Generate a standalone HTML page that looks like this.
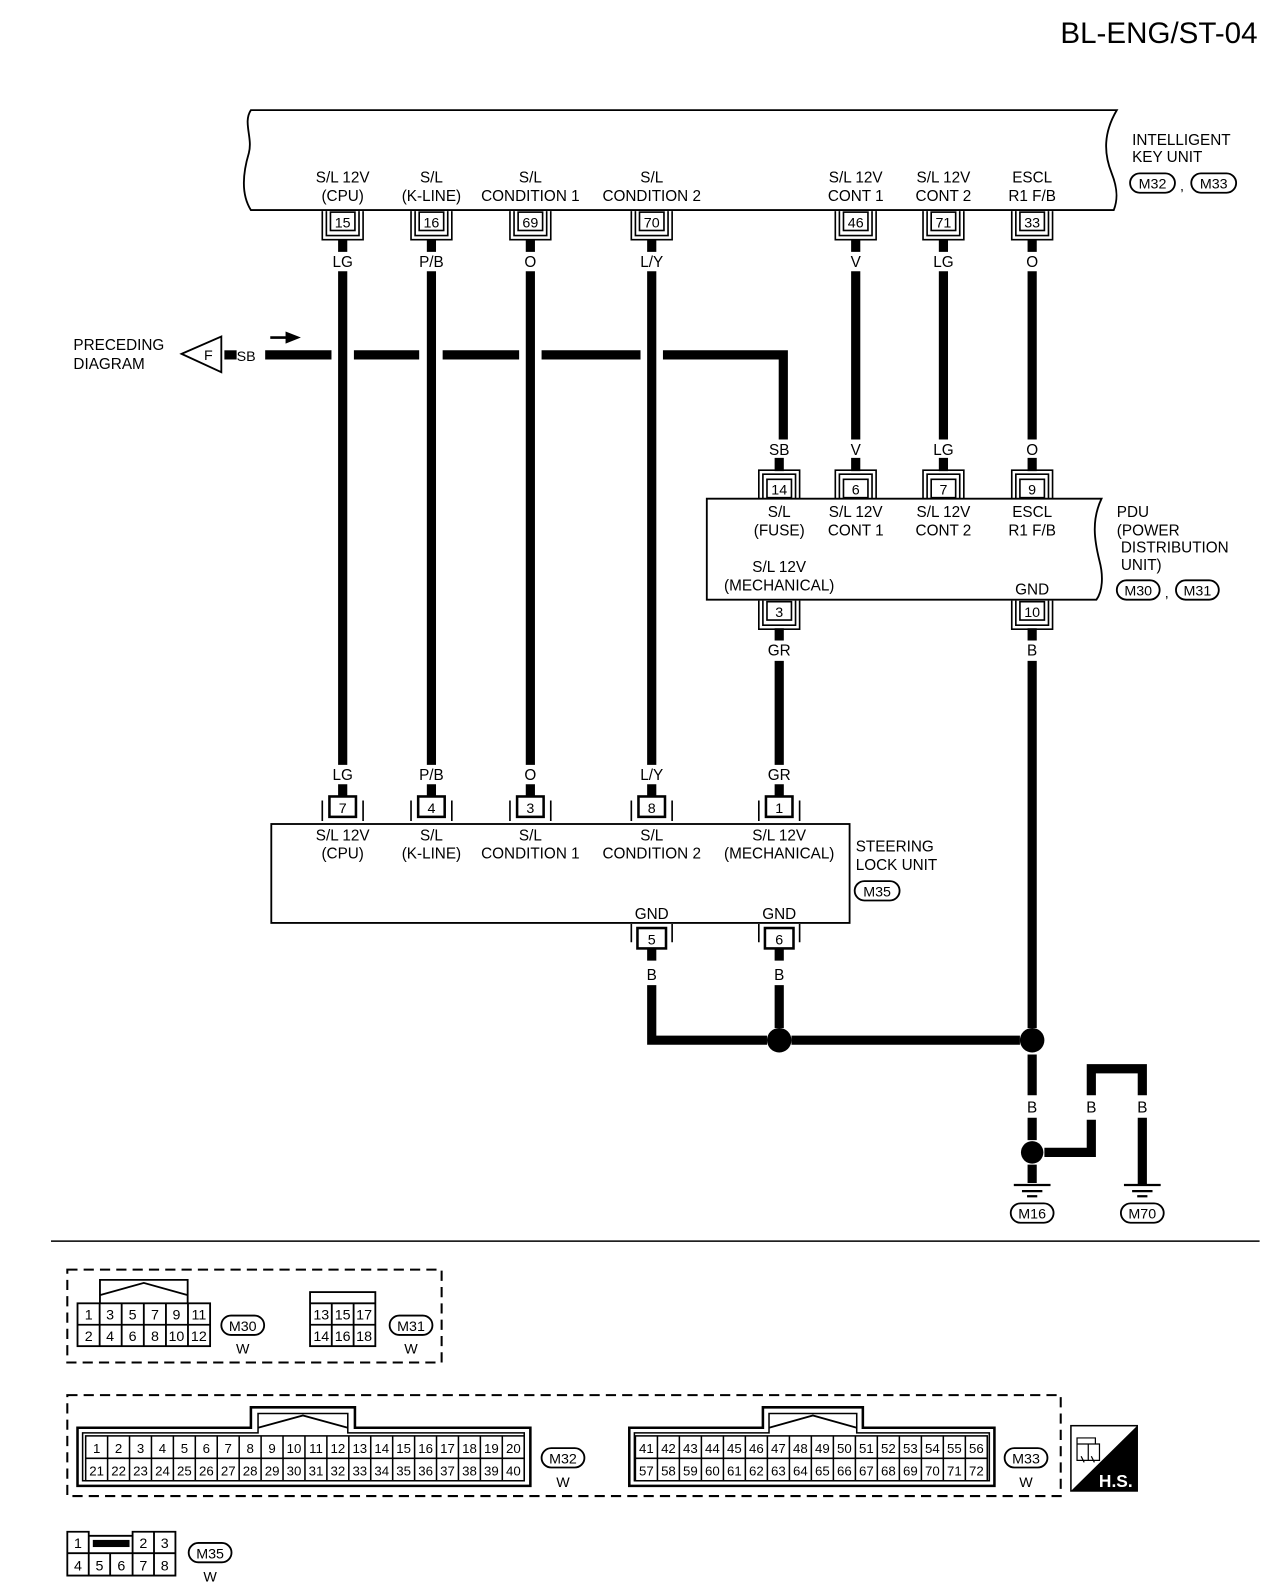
<!DOCTYPE html>
<html><head><meta charset="utf-8"><style>
html,body{margin:0;padding:0;background:#fff}
svg{display:block}
text{font-family:"Liberation Sans",sans-serif;fill:#000}
</style></head><body>
<svg width="1280" height="1596" viewBox="0 0 1255 1565" preserveAspectRatio="none" xmlns="http://www.w3.org/2000/svg">
<defs>
<g id="pd"><path d="M-20 0V28H20V0M-16 0V24H16V0" fill="none" stroke="#000" stroke-width="1.6"/><rect x="-12" y="1" width="24" height="18" fill="#fff" stroke="#000" stroke-width="1.6"/></g>
<g id="pu"><path d="M-20 28V0H20V28M-16 28V4H16V28" fill="none" stroke="#000" stroke-width="1.6"/><rect x="-12" y="9" width="24" height="18" fill="#fff" stroke="#000" stroke-width="1.6"/></g>
<g id="ps"><path d="M-20 26V6M20 26V6" fill="none" stroke="#000" stroke-width="1.6"/><rect x="-13" y="2" width="26" height="20" fill="#fff" stroke="#000" stroke-width="2.5"/></g>
<g id="pb"><path d="M-20 0V18M20 0V18" fill="none" stroke="#000" stroke-width="1.6"/><rect x="-14" y="4" width="28" height="20" fill="#fff" stroke="#000" stroke-width="2.5"/></g>
<g id="gnd"><path d="M-18 0H18M-10 6H10M-5 11H5" stroke="#000" stroke-width="2.2"/></g>
</defs>

<text x="1233" y="42" font-size="29" text-anchor="end">BL-ENG/ST-04</text>

<path d="M246 108H1095 C1082 130,1082 150,1090 170 C1096 185,1096 196,1092 206 H246 C236 190,238 170,244 150 C248 135,238 120,246 108Z" fill="none" stroke="#000" stroke-width="1.8"/>
<g font-size="15" text-anchor="middle">
<text x="336" y="179">S/L 12V</text><text x="336" y="197">(CPU)</text>
<text x="423" y="179">S/L</text><text x="423" y="197">(K-LINE)</text>
<text x="520" y="179">S/L</text><text x="520" y="197">CONDITION 1</text>
<text x="639" y="179">S/L</text><text x="639" y="197">CONDITION 2</text>
<text x="839" y="179">S/L 12V</text><text x="839" y="197">CONT 1</text>
<text x="925" y="179">S/L 12V</text><text x="925" y="197">CONT 2</text>
<text x="1012" y="179">ESCL</text><text x="1012" y="197">R1 F/B</text>
</g>
<g font-size="15"><text x="1110" y="142">INTELLIGENT</text><text x="1110" y="159">KEY UNIT</text></g>
<rect x="1108" y="170" width="44" height="19" rx="9.5" fill="none" stroke="#000" stroke-width="1.8"/>
<text x="1130" y="185" font-size="14" text-anchor="middle">M32</text>
<text x="1157" y="187" font-size="14">,</text>
<rect x="1168" y="170" width="44" height="19" rx="9.5" fill="none" stroke="#000" stroke-width="1.8"/>
<text x="1190" y="185" font-size="14" text-anchor="middle">M33</text>

<g>
<use href="#pd" x="336" y="207"/><use href="#pd" x="423" y="207"/><use href="#pd" x="520" y="207"/><use href="#pd" x="639" y="207"/>
<use href="#pd" x="839" y="207"/><use href="#pd" x="925" y="207"/><use href="#pd" x="1012" y="207"/>
</g>
<g font-size="14" text-anchor="middle">
<text x="336" y="223">15</text><text x="423" y="223">16</text><text x="520" y="223">69</text><text x="639" y="223">70</text>
<text x="839" y="223">46</text><text x="925" y="223">71</text><text x="1012" y="223">33</text>
</g>
<g font-size="15" text-anchor="middle">
<text x="336" y="262">LG</text><text x="423" y="262">P/B</text><text x="520" y="262">O</text><text x="639" y="262">L/Y</text>
<text x="839" y="262">V</text><text x="925" y="262">LG</text><text x="1012" y="262">O</text>
</g>
<g stroke="#000" stroke-width="9" fill="none">
<path d="M336 235V247M423 235V247M520 235V247M639 235V247M839 235V247M925 235V247M1012 235V247"/>
<path d="M336 266V750M423 266V750M520 266V750M639 266V750"/>
<path d="M839 266V431M925 266V431M1012 266V431"/>
<path d="M764 449V462M839 449V462M925 449V462M1012 449V462"/>
<path d="M260 348H325M347 348H411M434 348H509M531 348H628M650 348H768V431"/>
<path d="M764 616V628M1012 616V628M764 648V750M1012 648V1008"/>
<path d="M336 769V781M423 769V781M520 769V781M639 769V781M764 769V781"/>
<path d="M639 930V942M764 930V942M639 966V1020H752M776 1020H1000M764 966V1008"/>
<path d="M1012 1034V1074M1012 1096V1118M1012 1142V1160M1024 1130H1070V1098M1070 1074V1048H1120V1074M1120 1096V1162"/>
<path d="M220 348H232"/>
</g>
<circle cx="764" cy="1020" r="12"/><circle cx="1012" cy="1020" r="12"/><circle cx="1012" cy="1130" r="11"/>
<g font-size="15"><text x="72" y="343">PRECEDING</text><text x="72" y="362">DIAGRAM</text></g>
<path d="M178 347L217 330V365Z" fill="#fff" stroke="#000" stroke-width="1.8"/>
<text x="200" y="353" font-size="14">F</text>
<text x="232" y="354" font-size="14">SB</text>
<path d="M265 331H282" stroke="#000" stroke-width="2.5"/><path d="M280 325L295 331L280 337Z"/>
<g font-size="15" text-anchor="middle">
<text x="764" y="446">SB</text><text x="839" y="446">V</text><text x="925" y="446">LG</text><text x="1012" y="446">O</text>
</g>
<use href="#pu" x="764" y="461"/><use href="#pu" x="839" y="461"/><use href="#pu" x="925" y="461"/><use href="#pu" x="1012" y="461"/>
<g font-size="14" text-anchor="middle">
<text x="764" y="485">14</text><text x="839" y="485">6</text><text x="925" y="485">7</text><text x="1012" y="485">9</text>
</g>
<path d="M693 489H1080 C1070 510,1073 530,1078 550 C1082 565,1081 580,1075 588 H693Z" fill="#fff" stroke="#000" stroke-width="1.8"/>
<g font-size="15" text-anchor="middle">
<text x="764" y="507">S/L</text><text x="764" y="525">(FUSE)</text>
<text x="839" y="507">S/L 12V</text><text x="839" y="525">CONT 1</text>
<text x="925" y="507">S/L 12V</text><text x="925" y="525">CONT 2</text>
<text x="1012" y="507">ESCL</text><text x="1012" y="525">R1 F/B</text>
<text x="764" y="561">S/L 12V</text><text x="764" y="579">(MECHANICAL)</text>
<text x="1012" y="583">GND</text>
</g>
<g font-size="15"><text x="1095" y="507">PDU</text><text x="1095" y="525">(POWER</text><text x="1099" y="542">DISTRIBUTION</text><text x="1099" y="559">UNIT)</text></g>
<rect x="1095" y="569" width="42" height="19" rx="9.5" fill="none" stroke="#000" stroke-width="1.8"/>
<text x="1116" y="584" font-size="14" text-anchor="middle">M30</text>
<text x="1142" y="586" font-size="14">,</text>
<rect x="1153" y="569" width="42" height="19" rx="9.5" fill="none" stroke="#000" stroke-width="1.8"/>
<text x="1174" y="584" font-size="14" text-anchor="middle">M31</text>
<use href="#pd" x="764" y="589"/><use href="#pd" x="1012" y="589"/>
<g font-size="14" text-anchor="middle"><text x="764" y="605">3</text><text x="1012" y="605">10</text></g>
<g font-size="15" text-anchor="middle"><text x="764" y="643">GR</text><text x="1012" y="643">B</text></g>
<g font-size="15" text-anchor="middle">
<text x="336" y="765">LG</text><text x="423" y="765">P/B</text><text x="520" y="765">O</text><text x="639" y="765">L/Y</text><text x="764" y="765">GR</text>
</g>
<use href="#ps" x="336" y="779"/><use href="#ps" x="423" y="779"/><use href="#ps" x="520" y="779"/><use href="#ps" x="639" y="779"/><use href="#ps" x="764" y="779"/>
<g font-size="14" text-anchor="middle">
<text x="336" y="797">7</text><text x="423" y="797">4</text><text x="520" y="797">3</text><text x="639" y="797">8</text><text x="764" y="797">1</text>
</g>
<rect x="266" y="808" width="567" height="97" fill="none" stroke="#000" stroke-width="1.8"/>
<g font-size="15" text-anchor="middle">
<text x="336" y="824">S/L 12V</text><text x="336" y="842">(CPU)</text>
<text x="423" y="824">S/L</text><text x="423" y="842">(K-LINE)</text>
<text x="520" y="824">S/L</text><text x="520" y="842">CONDITION 1</text>
<text x="639" y="824">S/L</text><text x="639" y="842">CONDITION 2</text>
<text x="764" y="824">S/L 12V</text><text x="764" y="842">(MECHANICAL)</text>
<text x="639" y="901">GND</text><text x="764" y="901">GND</text>
</g>
<g font-size="15"><text x="839" y="835">STEERING</text><text x="839" y="853">LOCK UNIT</text></g>
<rect x="838" y="864" width="44" height="19" rx="9.5" fill="none" stroke="#000" stroke-width="1.8"/>
<text x="860" y="879" font-size="14" text-anchor="middle">M35</text>
<use href="#pb" x="639" y="906"/><use href="#pb" x="764" y="906"/>
<g font-size="14" text-anchor="middle"><text x="639" y="926">5</text><text x="764" y="926">6</text></g>
<g font-size="15" text-anchor="middle"><text x="639" y="961">B</text><text x="764" y="961">B</text>
<text x="1012" y="1091">B</text><text x="1070" y="1091">B</text><text x="1120" y="1091">B</text></g>
<use href="#gnd" x="1012" y="1162"/><use href="#gnd" x="1120" y="1162"/>
<rect x="991" y="1180" width="42" height="19" rx="9.5" fill="none" stroke="#000" stroke-width="1.8"/>
<text x="1012" y="1195" font-size="14" text-anchor="middle">M16</text>
<rect x="1099" y="1180" width="42" height="19" rx="9.5" fill="none" stroke="#000" stroke-width="1.8"/>
<text x="1120" y="1195" font-size="14" text-anchor="middle">M70</text>
<path d="M50 1217H1235" stroke="#000" stroke-width="1.5"/>

<rect x="66" y="1245" width="367" height="91" fill="none" stroke="#000" stroke-width="2" stroke-dasharray="10,6"/>
<path d="M98 1278V1255H184V1278M98 1270L141 1258L184 1270" fill="none" stroke="#000" stroke-width="1.8"/>
<g fill="none" stroke="#000" stroke-width="1.8">
<rect x="76" y="1278" width="130" height="42"/><path d="M76 1299H206M97.7 1278V1320M119.3 1278V1320M141 1278V1320M162.7 1278V1320M184.3 1278V1320"/>
<rect x="304" y="1267" width="64" height="53"/><path d="M304 1278H368M304 1299H368M325.3 1278V1320M346.7 1278V1320"/>
</g>
<g font-size="14" text-anchor="middle">
<text x="87" y="1294">1</text><text x="108" y="1294">3</text><text x="130" y="1294">5</text><text x="152" y="1294">7</text><text x="173" y="1294">9</text><text x="195" y="1294">11</text>
<text x="87" y="1315">2</text><text x="108" y="1315">4</text><text x="130" y="1315">6</text><text x="152" y="1315">8</text><text x="173" y="1315">10</text><text x="195" y="1315">12</text>
<text x="315" y="1294">13</text><text x="336" y="1294">15</text><text x="357" y="1294">17</text>
<text x="315" y="1315">14</text><text x="336" y="1315">16</text><text x="357" y="1315">18</text>
</g>
<rect x="217" y="1290" width="42" height="19" rx="9.5" fill="none" stroke="#000" stroke-width="1.8"/>
<text x="238" y="1305" font-size="14" text-anchor="middle">M30</text><text x="238" y="1327" font-size="14" text-anchor="middle">W</text>
<rect x="382" y="1290" width="42" height="19" rx="9.5" fill="none" stroke="#000" stroke-width="1.8"/>
<text x="403" y="1305" font-size="14" text-anchor="middle">M31</text><text x="403" y="1327" font-size="14" text-anchor="middle">W</text>

<rect x="66" y="1368" width="974" height="99" fill="none" stroke="#000" stroke-width="2" stroke-dasharray="10,6"/>
<g fill="none" stroke="#000">
<path d="M76 1400H246V1380H348V1400H520V1457H76Z" stroke-width="2.5"/>
<path d="M81 1405H253V1386H341V1405H514V1452H81Z" stroke-width="1.5"/>
<path d="M253 1400L297 1388L341 1400" stroke-width="1.8"/>
<rect x="84" y="1408" width="430" height="44" stroke-width="1.5"/>
<path d="M84 1430H514M105.5 1408V1452M127 1408V1452M148.5 1408V1452M170 1408V1452M191.5 1408V1452M213 1408V1452M234.5 1408V1452M256 1408V1452M277.5 1408V1452M299 1408V1452M320.5 1408V1452M342 1408V1452M363.5 1408V1452M385 1408V1452M406.5 1408V1452M428 1408V1452M449.5 1408V1452M471 1408V1452M492.5 1408V1452" stroke-width="1.5"/>
<path d="M617 1400H748V1380H846V1400H975V1457H617Z" stroke-width="2.5"/>
<path d="M622 1405H754V1386H840V1405H970V1452H622Z" stroke-width="1.5"/>
<path d="M754 1400L797 1388L840 1400" stroke-width="1.8"/>
<rect x="623" y="1408" width="345" height="44" stroke-width="1.5"/>
<path d="M623 1430H968M644.6 1408V1452M666.1 1408V1452M687.7 1408V1452M709.3 1408V1452M730.8 1408V1452M752.4 1408V1452M774 1408V1452M795.5 1408V1452M817.1 1408V1452M838.7 1408V1452M860.2 1408V1452M881.8 1408V1452M903.4 1408V1452M924.9 1408V1452M946.5 1408V1452" stroke-width="1.5"/>
</g>
<g font-size="13" text-anchor="middle">
<text x="94.8" y="1425">1</text><text x="116.3" y="1425">2</text><text x="137.8" y="1425">3</text><text x="159.3" y="1425">4</text><text x="180.8" y="1425">5</text><text x="202.3" y="1425">6</text><text x="223.8" y="1425">7</text><text x="245.3" y="1425">8</text><text x="266.8" y="1425">9</text><text x="288.3" y="1425">10</text><text x="309.8" y="1425">11</text><text x="331.3" y="1425">12</text><text x="352.8" y="1425">13</text><text x="374.3" y="1425">14</text><text x="395.8" y="1425">15</text><text x="417.3" y="1425">16</text><text x="438.8" y="1425">17</text><text x="460.3" y="1425">18</text><text x="481.8" y="1425">19</text><text x="503.3" y="1425">20</text>
<text x="94.8" y="1447">21</text><text x="116.3" y="1447">22</text><text x="137.8" y="1447">23</text><text x="159.3" y="1447">24</text><text x="180.8" y="1447">25</text><text x="202.3" y="1447">26</text><text x="223.8" y="1447">27</text><text x="245.3" y="1447">28</text><text x="266.8" y="1447">29</text><text x="288.3" y="1447">30</text><text x="309.8" y="1447">31</text><text x="331.3" y="1447">32</text><text x="352.8" y="1447">33</text><text x="374.3" y="1447">34</text><text x="395.8" y="1447">35</text><text x="417.3" y="1447">36</text><text x="438.8" y="1447">37</text><text x="460.3" y="1447">38</text><text x="481.8" y="1447">39</text><text x="503.3" y="1447">40</text>
<text x="633.8" y="1425">41</text><text x="655.4" y="1425">42</text><text x="676.9" y="1425">43</text><text x="698.5" y="1425">44</text><text x="720.1" y="1425">45</text><text x="741.6" y="1425">46</text><text x="763.2" y="1425">47</text><text x="784.8" y="1425">48</text><text x="806.3" y="1425">49</text><text x="827.9" y="1425">50</text><text x="849.5" y="1425">51</text><text x="871" y="1425">52</text><text x="892.6" y="1425">53</text><text x="914.2" y="1425">54</text><text x="935.7" y="1425">55</text><text x="957.3" y="1425">56</text>
<text x="633.8" y="1447">57</text><text x="655.4" y="1447">58</text><text x="676.9" y="1447">59</text><text x="698.5" y="1447">60</text><text x="720.1" y="1447">61</text><text x="741.6" y="1447">62</text><text x="763.2" y="1447">63</text><text x="784.8" y="1447">64</text><text x="806.3" y="1447">65</text><text x="827.9" y="1447">66</text><text x="849.5" y="1447">67</text><text x="871" y="1447">68</text><text x="892.6" y="1447">69</text><text x="914.2" y="1447">70</text><text x="935.7" y="1447">71</text><text x="957.3" y="1447">72</text>
</g>
<rect x="531" y="1420" width="42" height="19" rx="9.5" fill="none" stroke="#000" stroke-width="1.8"/>
<text x="552" y="1435" font-size="14" text-anchor="middle">M32</text><text x="552" y="1458" font-size="14" text-anchor="middle">W</text>
<rect x="985" y="1420" width="42" height="19" rx="9.5" fill="none" stroke="#000" stroke-width="1.8"/>
<text x="1006" y="1435" font-size="14" text-anchor="middle">M33</text><text x="1006" y="1458" font-size="14" text-anchor="middle">W</text>
<rect x="1050" y="1398" width="65" height="64" fill="#fff" stroke="#000" stroke-width="1.5"/>
<path d="M1050 1462L1115 1398V1462Z"/>
<path d="M1056 1410h18v6h-18zM1056 1416h22v16h-22zM1067 1416v16M1060 1428l3 6M1070 1428l3 6" fill="none" stroke="#000" stroke-width="1.2"/>
<text x="1094" y="1458" font-size="17" font-weight="bold" text-anchor="middle" style="fill:#fff">H.S.</text>
<g fill="none" stroke="#000" stroke-width="1.8">
<path d="M66 1502H87V1523H66ZM130 1502H172V1523H130ZM151 1502V1523M66 1523H172V1545H66ZM87 1523V1545M108 1523V1545M130 1523V1545M151 1523V1545M87 1506H130"/>
</g>
<rect x="91" y="1510" width="36" height="7"/>
<g font-size="14" text-anchor="middle">
<text x="76.5" y="1518">1</text><text x="140.5" y="1518">2</text><text x="161.5" y="1518">3</text>
<text x="76.5" y="1540">4</text><text x="97.5" y="1540">5</text><text x="119" y="1540">6</text><text x="140.5" y="1540">7</text><text x="161.5" y="1540">8</text>
</g>
<rect x="185" y="1513" width="42" height="19" rx="9.5" fill="none" stroke="#000" stroke-width="1.8"/>
<text x="206" y="1528" font-size="14" text-anchor="middle">M35</text><text x="206" y="1551" font-size="14" text-anchor="middle">W</text>
</svg>
</body></html>
